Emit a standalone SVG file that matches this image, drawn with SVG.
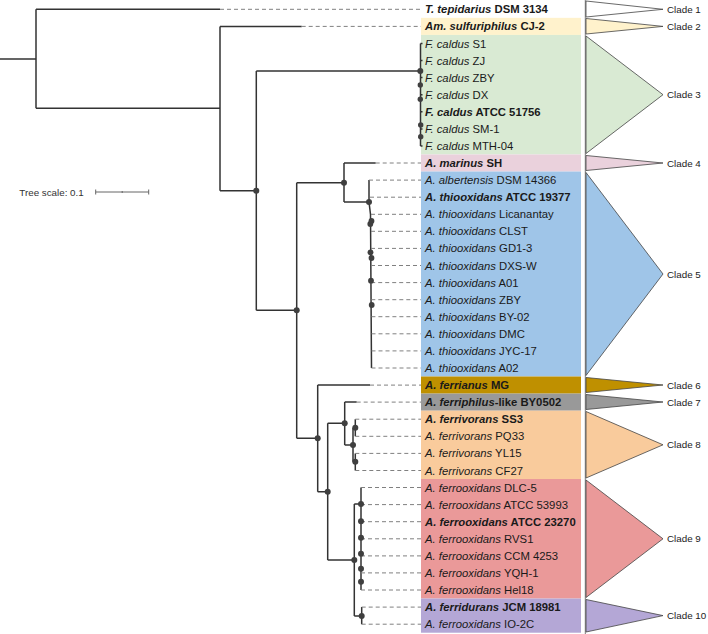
<svg xmlns="http://www.w3.org/2000/svg" width="708" height="634" viewBox="0 0 708 634">
<style>
.t{font-family:"Liberation Sans",Arial,sans-serif;font-size:11.3px;fill:#1a1a1a}
.i{font-style:italic}
.b{font-weight:bold}
.cl{font-family:"Liberation Sans",Arial,sans-serif;font-size:9.8px;fill:#222}
.e{fill:none;stroke:#333;stroke-width:1.5}
.d{fill:none;stroke:#808080;stroke-width:1;stroke-dasharray:4 3}
.n circle{fill:#3f3f3f}
.tri{stroke:#444;stroke-width:0.8}
</style>
<rect width="708" height="634" fill="#ffffff"/>

<!-- clade backgrounds -->
<g id="clade-boxes">
<rect x="421" y="17.84" width="160" height="17.08" fill="#fff2cc"/>
<rect x="421" y="34.92" width="160" height="119.56" fill="#d9ead3"/>
<rect x="421" y="154.48" width="160" height="17.08" fill="#ead1dc"/>
<rect x="421" y="171.56" width="160" height="204.96" fill="#9fc5e8"/>
<rect x="421" y="376.52" width="160" height="17.08" fill="#bf9000"/>
<rect x="421" y="393.6" width="160" height="17.08" fill="#999999"/>
<rect x="421" y="410.68" width="160" height="68.32" fill="#f9cb9c"/>
<rect x="421" y="479" width="160" height="119.56" fill="#ea9999"/>
<rect x="421" y="598.56" width="160" height="34.16" fill="#b4a7d6"/>
</g>
<line x1="585.3" y1="0" x2="585.3" y2="634" stroke="#777" stroke-width="1"/>

<!-- clade triangles -->
<g id="clade1"><polygon class="tri" points="586,1 586,17 663,9.3" fill="#ffffff"/><text class="cl" x="667" y="12.8">Clade 1</text></g>
<g id="clade2"><polygon class="tri" points="586,18.5 586,34 663,26.4" fill="#fff2cc"/><text class="cl" x="667" y="29.9">Clade 2</text></g>
<g id="clade3"><polygon class="tri" points="586,36 586,153.5 663,94.7" fill="#d9ead3"/><text class="cl" x="667" y="98.2">Clade 3</text></g>
<g id="clade4"><polygon class="tri" points="586,155.5 586,170.5 663,163" fill="#ead1dc"/><text class="cl" x="667" y="166.5">Clade 4</text></g>
<g id="clade5"><polygon class="tri" points="586,172.5 586,375.5 663,274" fill="#9fc5e8"/><text class="cl" x="667" y="277.5">Clade 5</text></g>
<g id="clade6"><polygon class="tri" points="586,377.5 586,392.5 663,385" fill="#bf9000"/><text class="cl" x="667" y="388.5">Clade 6</text></g>
<g id="clade7"><polygon class="tri" points="586,394.5 586,409.5 663,402" fill="#999999"/><text class="cl" x="667" y="405.5">Clade 7</text></g>
<g id="clade8"><polygon class="tri" points="586,411.5 586,478 663,444.8" fill="#f9cb9c"/><text class="cl" x="667" y="448.3">Clade 8</text></g>
<g id="clade9"><polygon class="tri" points="586,480 586,597.5 663,538.8" fill="#ea9999"/><text class="cl" x="667" y="542.3">Clade 9</text></g>
<g id="clade10"><polygon class="tri" points="586,599.5 586,632 663,615.6" fill="#b4a7d6"/><text class="cl" x="667" y="619.1">Clade 10</text></g>

<!-- connectors -->
<g id="connectors">
<path class="e" d="M0,59 H36 M36,9.3 V108.3 M36,9.3 H220 M36,108.3 H220
M220,26.4 V190.7 M220,26.4 H301.7 M220,190.7 H256.3
M256.3,71 V310.3 M256.3,71 H420.5 M256.3,310.3 H296.7
M420.5,43.5 V146 M420.5,43.5 H422.5 M420.5,60.5 H422.5 M420.5,77.6 H422.5 M420.5,94.7 H422.5 M420.5,111.8 H422.5 M420.5,128.9 H422.5 M420.5,146 H422.5
M296.7,182.7 V438.3 M296.7,182.7 H344
M344,163 V202 M344,163 H375.7 M344,202 H369
M369,180.1 V202 L370.5,214.3 L371.5,368
M296.7,438.3 H317.7 M317.7,385.1 V491.7 M317.7,385.1 H370 M317.7,491.7 H327.7
M327.7,423.3 V560 M327.7,423.3 H344.7
M344.7,402.1 V445 M344.7,402.1 H356.7 M344.7,445 H353
M353,427.7 V461.7 M353,427.7 H355.3 M355.3,419.2 V436.3 M353,461.7 H355.3 M355.3,453.4 V470.5
M327.7,560 H354.3 M354.3,504 V616 M354.3,504 H361 M361,487.5 V590
M354.3,616 H361.7 M361.7,607.1 V624.2"/>
<path class="d" d="M220,9.3 H421 M301.7,26.4 H421 M375.7,163 H421
M369,180.1 H421 M370,197.2 H421 M371,214.3 H421 M371,231.3 H421 M371,248.4 H421 M371,265.5 H421 M371.2,282.6 H421 M371.3,299.7 H421 M371.4,316.7 H421 M371.5,333.8 H421 M371.5,350.9 H421 M371.5,368 H421
M370,385.1 H421 M356.7,402.1 H421
M355.3,419.2 H421 M355.3,436.3 H421 M355.3,453.4 H421 M355.3,470.5 H421
M361,487.5 H421 M361,504.6 H421 M361,521.7 H421 M361,538.8 H421 M361,555.9 H421 M361,572.9 H421 M361,590 H421
M361.7,607.1 H421 M361.7,624.2 H421"/>
<g class="n">
<circle cx="256.3" cy="190.7" r="3"/>
<circle cx="296.7" cy="310.3" r="3"/>
<circle cx="344" cy="182.7" r="3"/>
<circle cx="369" cy="202" r="3"/>
<circle cx="420.3" cy="71" r="3"/>
<circle cx="420.3" cy="85" r="2.7"/>
<circle cx="420.3" cy="99.3" r="2.7"/>
<circle cx="420.7" cy="125" r="2.7"/>
<circle cx="420.7" cy="136.7" r="2.7"/>
<circle cx="370.3" cy="224" r="2.9"/>
<circle cx="371.5" cy="221" r="2.9"/>
<circle cx="370.5" cy="252.3" r="2.9"/>
<circle cx="371.5" cy="258" r="2.9"/>
<circle cx="371" cy="280.7" r="2.9"/>
<circle cx="371.7" cy="305" r="2.9"/>
<circle cx="317.7" cy="438.3" r="3"/>
<circle cx="327.7" cy="491.7" r="3"/>
<circle cx="344.7" cy="423.3" r="3"/>
<circle cx="353" cy="445" r="3"/>
<circle cx="355.3" cy="427.7" r="3"/>
<circle cx="355.3" cy="461.7" r="3"/>
<circle cx="354.3" cy="560" r="3"/>
<circle cx="361" cy="504" r="3"/>
<circle cx="361" cy="521.3" r="3"/>
<circle cx="361" cy="537.7" r="3"/>
<circle cx="361" cy="553.7" r="3"/>
<circle cx="361" cy="568.7" r="3"/>
<circle cx="361" cy="581.7" r="3"/>
<circle cx="361.7" cy="616" r="3"/>
</g>
</g>

<!-- scale -->
<g id="scale">
<text x="19.3" y="195.5" style="font-family:'Liberation Sans',Arial,sans-serif;font-size:9.8px;fill:#333">Tree scale: 0.1</text>
<path d="M95.7,192 H148.7 M95.7,189.5 V194.5 M148.7,189.5 V194.5 M122.2,191 V193" stroke="#666" stroke-width="1" fill="none"/>
</g>

<!-- leaves -->
<g id="leaf-T-tepidarius"><text class="t b" x="425" y="13.3"><tspan class="i">T. tepidarius</tspan> DSM 3134</text></g>
<g id="leaf-Am-sulfuriphilus"><text class="t b" x="425" y="30.4"><tspan class="i">Am. sulfuriphilus</tspan> CJ-2</text></g>
<g id="leaf-F-caldus-S1"><text class="t" x="425" y="47.5"><tspan class="i">F. caldus</tspan> S1</text></g>
<g id="leaf-F-caldus-ZJ"><text class="t" x="425" y="64.5"><tspan class="i">F. caldus</tspan> ZJ</text></g>
<g id="leaf-F-caldus-ZBY"><text class="t" x="425" y="81.6"><tspan class="i">F. caldus</tspan> ZBY</text></g>
<g id="leaf-F-caldus-DX"><text class="t" x="425" y="98.7"><tspan class="i">F. caldus</tspan> DX</text></g>
<g id="leaf-F-caldus-ATCC51756"><text class="t b" x="425" y="115.8"><tspan class="i">F. caldus</tspan> ATCC 51756</text></g>
<g id="leaf-F-caldus-SM-1"><text class="t" x="425" y="132.9"><tspan class="i">F. caldus</tspan> SM-1</text></g>
<g id="leaf-F-caldus-MTH-04"><text class="t" x="425" y="149.9"><tspan class="i">F. caldus</tspan> MTH-04</text></g>
<g id="leaf-A-marinus"><text class="t b" x="425" y="167"><tspan class="i">A. marinus</tspan> SH</text></g>
<g id="leaf-A-albertensis"><text class="t" x="425" y="184.1"><tspan class="i">A. albertensis</tspan> DSM 14366</text></g>
<g id="leaf-A-thio-ATCC19377"><text class="t b" x="425" y="201.2"><tspan class="i">A. thiooxidans</tspan> ATCC 19377</text></g>
<g id="leaf-A-thio-Licanantay"><text class="t" x="425" y="218.3"><tspan class="i">A. thiooxidans</tspan> Licanantay</text></g>
<g id="leaf-A-thio-CLST"><text class="t" x="425" y="235.3"><tspan class="i">A. thiooxidans</tspan> CLST</text></g>
<g id="leaf-A-thio-GD1-3"><text class="t" x="425" y="252.4"><tspan class="i">A. thiooxidans</tspan> GD1-3</text></g>
<g id="leaf-A-thio-DXS-W"><text class="t" x="425" y="269.5"><tspan class="i">A. thiooxidans</tspan> DXS-W</text></g>
<g id="leaf-A-thio-A01"><text class="t" x="425" y="286.6"><tspan class="i">A. thiooxidans</tspan> A01</text></g>
<g id="leaf-A-thio-ZBY"><text class="t" x="425" y="303.7"><tspan class="i">A. thiooxidans</tspan> ZBY</text></g>
<g id="leaf-A-thio-BY-02"><text class="t" x="425" y="320.7"><tspan class="i">A. thiooxidans</tspan> BY-02</text></g>
<g id="leaf-A-thio-DMC"><text class="t" x="425" y="337.8"><tspan class="i">A. thiooxidans</tspan> DMC</text></g>
<g id="leaf-A-thio-JYC-17"><text class="t" x="425" y="354.9"><tspan class="i">A. thiooxidans</tspan> JYC-17</text></g>
<g id="leaf-A-thio-A02"><text class="t" x="425" y="372"><tspan class="i">A. thiooxidans</tspan> A02</text></g>
<g id="leaf-A-ferrianus"><text class="t b" x="425" y="389.1"><tspan class="i">A. ferrianus</tspan> MG</text></g>
<g id="leaf-A-ferriphilus"><text class="t b" x="425" y="406.1"><tspan class="i">A. ferriphilus</tspan>-like BY0502</text></g>
<g id="leaf-A-ferrivorans-SS3"><text class="t b" x="425" y="423.2"><tspan class="i">A. ferrivorans</tspan> SS3</text></g>
<g id="leaf-A-ferrivorans-PQ33"><text class="t" x="425" y="440.3"><tspan class="i">A. ferrivorans</tspan> PQ33</text></g>
<g id="leaf-A-ferrivorans-YL15"><text class="t" x="425" y="457.4"><tspan class="i">A. ferrivorans</tspan> YL15</text></g>
<g id="leaf-A-ferrivorans-CF27"><text class="t" x="425" y="474.5"><tspan class="i">A. ferrivorans</tspan> CF27</text></g>
<g id="leaf-A-ferroox-DLC-5"><text class="t" x="425" y="491.5"><tspan class="i">A. ferrooxidans</tspan> DLC-5</text></g>
<g id="leaf-A-ferroox-ATCC53993"><text class="t" x="425" y="508.6"><tspan class="i">A. ferrooxidans</tspan> ATCC 53993</text></g>
<g id="leaf-A-ferroox-ATCC23270"><text class="t b" x="425" y="525.7"><tspan class="i">A. ferrooxidans</tspan> ATCC 23270</text></g>
<g id="leaf-A-ferroox-RVS1"><text class="t" x="425" y="542.8"><tspan class="i">A. ferrooxidans</tspan> RVS1</text></g>
<g id="leaf-A-ferroox-CCM4253"><text class="t" x="425" y="559.9"><tspan class="i">A. ferrooxidans</tspan> CCM 4253</text></g>
<g id="leaf-A-ferroox-YQH-1"><text class="t" x="425" y="576.9"><tspan class="i">A. ferrooxidans</tspan> YQH-1</text></g>
<g id="leaf-A-ferroox-Hel18"><text class="t" x="425" y="594"><tspan class="i">A. ferrooxidans</tspan> Hel18</text></g>
<g id="leaf-A-ferridurans"><text class="t b" x="425" y="611.1"><tspan class="i">A. ferridurans</tspan> JCM 18981</text></g>
<g id="leaf-A-ferroox-IO-2C"><text class="t" x="425" y="628.2"><tspan class="i">A. ferrooxidans</tspan> IO-2C</text></g>
</svg>
